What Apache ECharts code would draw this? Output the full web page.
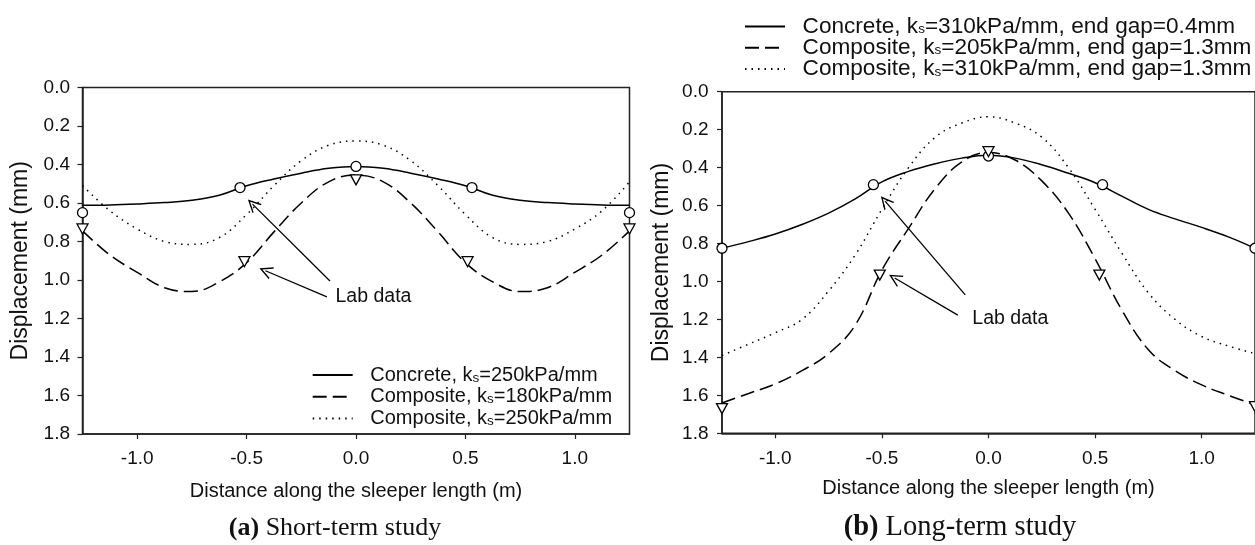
<!DOCTYPE html>
<html><head><meta charset="utf-8">
<script src="https://cdn.jsdelivr.net/npm/echarts@6/dist/echarts.min.js"></script>
<style>html,body{margin:0;padding:0;background:#fff}#c{width:1255px;height:545px}</style>
</head><body><div id="c"></div>
<script>
// ---------- DATA ----------
const xGrid = [-1.25,-1.125,-1.0,-0.875,-0.75,-0.625,-0.5,-0.375,-0.25,-0.125,0,0.125,0.25,0.375,0.5,0.625,0.75,0.875,1.0,1.125,1.25];
const xTicks = [-1.0,-0.5,0.0,0.5,1.0];

// (a) Short-term study
const aNames = ['Concrete, ks=250kPa/mm','Composite, ks=180kPa/mm','Composite, ks=250kPa/mm'];
const aConcrete250 = [0.612,0.61,0.605,0.598,0.586,0.56,0.51,0.475,0.445,0.42,0.41,0.42,0.445,0.475,0.51,0.56,0.586,0.598,0.605,0.61,0.612];
const aComposite180 = [0.745,0.87,0.96,1.04,1.06,1.01,0.91,0.75,0.60,0.49,0.455,0.49,0.60,0.75,0.91,1.01,1.06,1.04,0.96,0.87,0.745];
const aComposite250 = [0.51,0.64,0.735,0.80,0.815,0.78,0.66,0.51,0.38,0.30,0.278,0.30,0.38,0.51,0.66,0.78,0.815,0.80,0.735,0.64,0.49];
const aLabConcreteX = [-1.25,-0.53,0,0.53,1.25];
const aLabConcreteY = [0.65,0.52,0.41,0.52,0.65];
const aLabCompositeX = [-1.25,-0.51,0,0.51,1.25];
const aLabCompositeY = [0.735,0.905,0.48,0.905,0.735];
const aArrows = [[[-0.119,1.005],[-0.473,0.606]],[[-0.133,1.088],[-0.414,0.952]]];
const aLabText = [-0.096,1.088];

// (b) Long-term study
const bNames = ['Concrete, ks=310kPa/mm, end gap=0.4mm','Composite, ks=205kPa/mm, end gap=1.3mm','Composite, ks=310kPa/mm, end gap=1.3mm'];
const bConcrete310 = [0.825,0.79,0.75,0.70,0.64,0.565,0.475,0.42,0.38,0.35,0.335,0.35,0.385,0.43,0.48,0.55,0.62,0.67,0.715,0.765,0.825];
const bComposite205 = [1.64,1.59,1.54,1.47,1.38,1.23,0.94,0.72,0.51,0.37,0.32,0.36,0.47,0.64,0.88,1.15,1.36,1.47,1.545,1.60,1.65];
const bComposite310 = [1.39,1.33,1.27,1.20,1.05,0.86,0.62,0.40,0.24,0.165,0.132,0.165,0.24,0.40,0.62,0.85,1.06,1.20,1.29,1.34,1.38];
const bLabConcreteX = [-1.25,-0.54,0,0.535,1.25];
const bLabConcreteY = [0.825,0.49,0.339,0.49,0.825];
const bLabCompositeX = [-1.25,-0.51,0,0.52,1.25];
const bLabCompositeY = [1.67,0.966,0.316,0.966,1.66];
const bArrows = [[[-0.109,1.071],[-0.485,0.577]],[[-0.144,1.177],[-0.44,0.982]]];
const bLabText = [-0.078,1.194];

// ---------- STYLE ----------
const FONT = 'Liberation Sans, Arial, Helvetica, sans-serif';
const SERIF = 'Liberation Serif, Times New Roman, serif';
const INK = '#111';
const TRI = 'path://M0,0 L100,0 L50,90 Z';
const ARROW = 'path://M50,0 L88,100 L79,100 L50,24 L21,100 L12,100 Z';
const styles = [
  {type:'solid', width:1.5},
  {type:[14,6], width:1.5},
  {type:[1.5,5], width:1.5}
];

const pts = (xs, ys) => xs.map((x,i)=>[x, ys[i]]);

function lineSeries(name, ys, idx, st){
  return {name, type:'line', xAxisIndex:idx, yAxisIndex:idx, data:pts(xGrid, ys),
    smooth:0.4, symbol:'none', showSymbol:false,
    lineStyle:{color:'#000', width:st.width, type:st.type}, itemStyle:{color:'#000'},
    emphasis:{disabled:true}, silent:true, z:2};
}
function labSeries(name, xs, ys, idx, sym, size, extra){
  return Object.assign({name, type:'scatter', xAxisIndex:idx, yAxisIndex:idx, data:pts(xs, ys),
    symbol:sym, symbolSize:size, clip:false,
    itemStyle:{color:'#fff', borderColor:'#000', borderWidth:1.3, opacity:1},
    emphasis:{disabled:true}, silent:true, z:4}, extra||{});
}
function annot(arrows, txt){
  return {
    markLine:{silent:true, animation:false, symbol:['none', ARROW], symbolSize:13,
      label:{show:false}, lineStyle:{color:'#000', width:1.3, type:'solid'}, itemStyle:{color:'#000'},
      emphasis:{disabled:true},
      data: arrows.map(a=>[{coord:a[0]},{coord:a[1]}])},
    markPoint:{silent:true, animation:false, symbol:'rect', symbolSize:1, itemStyle:{color:'rgba(0,0,0,0)'},
      label:{show:true, position:'right', distance:0, formatter:'Lab data', fontSize:19.5, fontFamily:FONT, color:INK},
      data:[{coord:txt}]}
  };
}

function xAxisOpt(idx, gap, margin){
  return {type:'value', gridIndex:idx, min:-1.25, max:1.25, position:'bottom',
    name:'Distance along the sleeper length (m)', nameLocation:'middle', nameGap:gap,
    nameTextStyle:{fontSize:20, fontFamily:FONT, color:INK},
    axisLine:{show:true, onZero:false, lineStyle:{color:'#222', width:1.5}},
    axisTick:{show:true, length:5, customValues:xTicks, lineStyle:{color:'#222', width:1.2}},
    axisLabel:{customValues:xTicks, margin:margin, fontSize:19, fontFamily:FONT, color:INK, formatter:v=>v.toFixed(1)},
    splitLine:{show:false}};
}
function yAxisOpt(idx, gap, margin){
  return {type:'value', gridIndex:idx, min:0, max:1.8, interval:0.2, inverse:true, position:'left',
    name:'Displacement (mm)', nameLocation:'middle', nameGap:gap,
    nameTextStyle:{fontSize:23, fontFamily:FONT, color:INK},
    axisLine:{show:true, onZero:false, lineStyle:{color:'#222', width:1.5}},
    axisTick:{show:true, length:5, lineStyle:{color:'#222', width:1.2}},
    axisLabel:{margin:margin, fontSize:19, fontFamily:FONT, color:INK, formatter:v=>v.toFixed(1)},
    splitLine:{show:false}};
}
function legendOpt(names, left, top, fs, gap){
  return {data:names, orient:'vertical', left:left, top:top, itemWidth:40, itemHeight:20, itemGap:gap,
    selectedMode:false, padding:0,
    itemStyle:{color:'rgba(0,0,0,0)', borderColor:'rgba(0,0,0,0)', borderWidth:0, opacity:0},
    formatter:n=>n.replace('ks=','k{s|s}='),
    textStyle:{fontSize:fs, fontFamily:FONT, color:INK, padding:[0,0,0,12.6], lineHeight:20,
      rich:{s:{fontSize:13.5, fontFamily:FONT, color:INK, verticalAlign:'bottom', lineHeight:16}}}};
}

const option = {
  animation:false,
  backgroundColor:'#fff',
  grid:[
    {left:82.5, top:87.5, width:547, height:346.5, show:true, borderColor:'#222', borderWidth:1.5, backgroundColor:'transparent'},
    {left:722, top:91.7, width:538.5, height:341.6, show:true, borderColor:'#222', borderWidth:1.5, backgroundColor:'transparent'}
  ],
  xAxis:[xAxisOpt(0,47,15), xAxisOpt(1,45,16)],
  yAxis:[yAxisOpt(0,50,12.5), yAxisOpt(1,49,13.5)],
  legend:[legendOpt(aNames, 311.7, 365, 20, 1.7), legendOpt(bNames, 744, 15, 22.6, -1.8)],
  series:[
    lineSeries(aNames[0], aConcrete250, 0, styles[0]),
    lineSeries(aNames[1], aComposite180, 0, styles[1]),
    lineSeries(aNames[2], aComposite250, 0, styles[2]),
    labSeries('Lab data (a) concrete', aLabConcreteX, aLabConcreteY, 0, 'circle', 10),
    labSeries('Lab data (a) composite', aLabCompositeX, aLabCompositeY, 0, TRI, [11,10], annot(aArrows, aLabText)),
    lineSeries(bNames[0], bConcrete310, 1, styles[0]),
    lineSeries(bNames[1], bComposite205, 1, styles[1]),
    lineSeries(bNames[2], bComposite310, 1, styles[2]),
    labSeries('Lab data (b) concrete', bLabConcreteX, bLabConcreteY, 1, 'circle', 10),
    labSeries('Lab data (b) composite', bLabCompositeX, bLabCompositeY, 1, TRI, [11,10], annot(bArrows, bLabText))
  ],
  graphic:[
    {type:'text', x:335, y:528, silent:true, style:{text:'{b|(a)} Short-term study', fontSize:26, fontFamily:SERIF, fill:INK,
      align:'center', verticalAlign:'middle', rich:{b:{fontWeight:'bold', fontSize:26, fontFamily:SERIF, fill:INK}}}},
    {type:'text', x:960, y:528, silent:true, style:{text:'{b|(b)} Long-term study', fontSize:28.5, fontFamily:SERIF, fill:INK,
      align:'center', verticalAlign:'middle', rich:{b:{fontWeight:'bold', fontSize:28.5, fontFamily:SERIF, fill:INK}}}}
  ]
};
const chart = echarts.init(document.getElementById('c'), null, {renderer:'canvas'});
chart.setOption(option);
</script>
</body></html>
